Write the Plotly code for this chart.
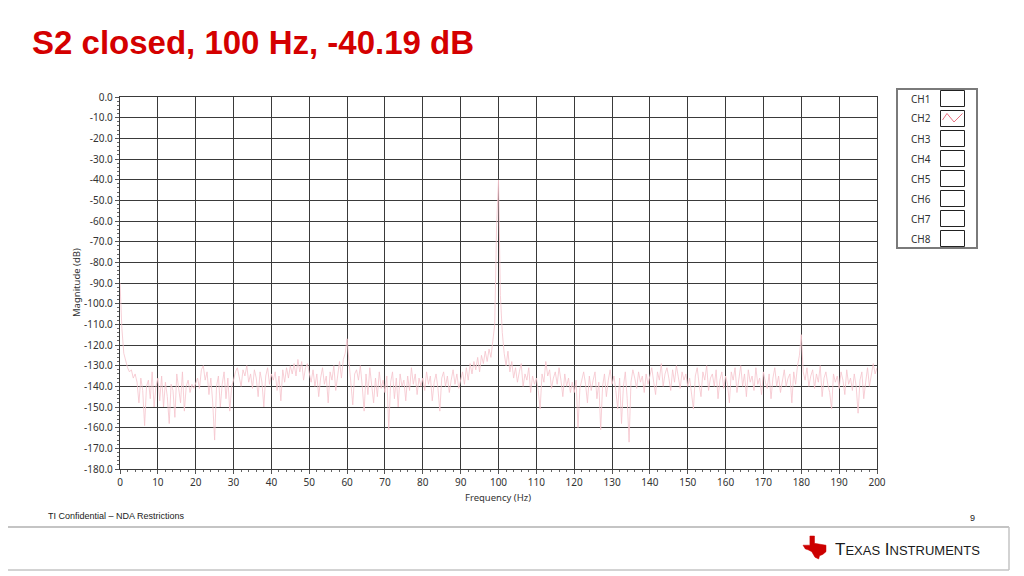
import plotly.graph_objects as go

# ---------------- data ----------------
freq_step_hz = 0.5
magnitude_db = [
    # 0 - 9.5 Hz
    -90, -112, -124, -128, -131, -133, -132, -136, -134, -138, -148, -136, -142, -159, -140, -137, -146, -133, -150, -140,
    # 10 - 19.5
    -136, -147, -135, -150, -138, -145, -158, -139, -142, -155, -134, -141, -148, -133, -152, -140, -137, -143, -139, -141,
    # 20 - 29.5
    -138, -136, -141, -132, -130, -137, -133, -144, -136, -148, -166, -140, -135, -150, -139, -133, -146, -136, -152, -140,
    # 30 - 39.5
    -137, -133, -131, -136, -140, -132, -135, -130, -138, -134, -141, -132, -136, -145, -133, -138, -150, -135, -131, -139,
    # 40 - 49.5
    -134, -137, -133, -142, -135, -147, -132, -138, -131, -136, -130, -134, -129, -135, -127, -133, -128, -137, -131, -129,
    # 50 - 59.5
    -134, -138, -132, -140, -134, -145, -136, -131, -139, -135, -148, -133, -137, -130, -142, -134, -128, -136, -127, -124,
    # 60 - 69.5
    -117, -128, -138, -149, -134, -132, -137, -130, -140, -152, -134, -144, -131, -139, -148, -136, -145, -133, -141, -137,
    # 70 - 79.5
    -143, -135, -161, -138, -133, -146, -136, -150, -134, -140, -137, -147, -135, -142, -131, -139, -134, -144, -136, -140,
    # 80 - 89.5
    -136, -142, -133, -139, -135, -147, -138, -134, -141, -152, -136, -133, -140, -135, -143, -137, -132, -139, -134, -141,
    # 90 - 99.5
    -136, -133, -139, -131, -137, -129, -134, -128, -132, -126, -133, -125, -129, -123, -128, -122, -126, -118, -110, -62,
    # 100 - 109.5
    -40.19, -96, -114, -124, -130, -123, -133, -128, -136, -131, -138, -133, -129, -140, -134, -137, -131, -143, -135, -139,
    # 110 - 119.5
    -136, -142, -151, -134, -138, -128, -135, -132, -141, -136, -133, -139, -131, -137, -145, -134, -140, -136, -143, -138,
    # 120 - 129.5
    -143, -137, -160, -141, -136, -133, -139, -148, -135, -142, -137, -133, -146, -138, -161, -140, -134, -145, -137, -132,
    # 130 - 139.5
    -139, -135, -142, -151, -136, -158, -140, -133, -146, -167, -138, -132, -136, -141, -133, -138, -135, -143, -134, -139,
    # 140 - 149.5
    -135, -131, -138, -144, -133, -137, -129, -140, -134, -131, -136, -142, -132, -138, -130, -135, -141, -133, -137, -134,
    # 150 - 159.5
    -140, -136, -144, -151, -135, -131, -139, -145, -133, -137, -130, -142, -136, -134, -140, -132, -146, -137, -133, -141,
    # 160 - 169.5
    -135, -139, -148, -133, -137, -131, -143, -136, -130, -140, -134, -145, -132, -138, -135, -142, -131, -139, -136, -144,
    # 170 - 179.5
    -133, -138, -141, -134, -146, -136, -131, -140, -135, -143, -137, -132, -140, -136, -134, -148, -133, -139, -130, -125,
    # 180 - 189.5
    -115, -133, -137, -131, -140, -135, -132, -141, -134, -138, -130, -145, -136, -133, -139, -143, -151, -134, -138, -135,
    # 190 - 199.5
    -141, -133, -137, -144, -132, -139, -136, -142, -134, -140, -153, -137, -133, -146, -138, -131, -140, -135, -129, -134,
    # 200
    -131,
]
frequency_hz = [i * freq_step_hz for i in range(len(magnitude_db))]

y_ticks = list(range(0, -181, -10))
y_tick_labels = [f"{v:.1f}" for v in y_ticks]
x_ticks = list(range(0, 201, 10))
channel_names = ["CH1", "CH2", "CH3", "CH4", "CH5", "CH6", "CH7", "CH8"]
active_channel = "CH2"

title_text = "S2 closed, 100 Hz, -40.19 dB"

# ---------------- layout geometry (page pixels) ----------------
OFF = 8  # default page body margin shifts the figure by this much
W, H = 1024 - OFF, 576 - OFF
PL, PR, PT, PB = 120, 877, 97, 469  # plot area in page pixels


def px(x):
    return (x - PL) / (PR - PL)


def py(y):
    return (PB - y) / (PB - PT)


TRACE_COLOR = "#f5c3cb"
GRID_COLOR = "#3a3a3a"
TEXT_COLOR = "#333333"
TICK_FONT = dict(family="Noto Sans, Open Sans, sans-serif", size=10, color=TEXT_COLOR)

fig = go.Figure()
fig.add_trace(go.Scatter(
    x=frequency_hz, y=magnitude_db, mode="lines",
    line=dict(color=TRACE_COLOR, width=0.8), showlegend=False, hoverinfo="x+y",
))

fig.update_layout(
    width=W, height=H,
    margin=dict(l=PL - OFF, r=W - (PR - OFF), t=PT - OFF, b=H - (PB - OFF), pad=0),
    paper_bgcolor="white", plot_bgcolor="white",
    showlegend=False,
)

fig.update_xaxes(
    range=[0, 200], tickvals=x_ticks, ticktext=[str(v) for v in x_ticks],
    showgrid=True, gridcolor=GRID_COLOR, gridwidth=1.4,
    showline=True, linecolor=GRID_COLOR, linewidth=1.4, mirror=True,
    zeroline=False,
    ticks="outside", ticklen=4, tickcolor="#555", tickfont=TICK_FONT,
    minor=dict(dtick=2, ticks="outside", ticklen=2, tickcolor="#666", showgrid=False),
)
fig.update_yaxes(
    range=[-180, 0], tickvals=y_ticks, ticktext=y_tick_labels,
    showgrid=True, gridcolor=GRID_COLOR, gridwidth=1.4,
    showline=True, linecolor=GRID_COLOR, linewidth=1.4, mirror=True,
    zeroline=False,
    ticks="outside", ticklen=4, tickcolor="#555", tickfont=TICK_FONT,
    minor=dict(dtick=2, ticks="outside", ticklen=2, tickcolor="#666", showgrid=False),
)

annotations = []
shapes = []

# title
annotations.append(dict(
    text=f"<b>{title_text}</b>", x=px(30), y=py(43), xref="paper", yref="paper",
    xanchor="left", yanchor="middle", showarrow=False,
    font=dict(family="Liberation Sans, Arial, sans-serif", size=33, color="#d40000"),
))

# axis titles
annotations.append(dict(
    text="Magnitude (dB)", x=px(76), y=py(283), xref="paper", yref="paper",
    xanchor="center", yanchor="middle", textangle=-90, showarrow=False,
    font=dict(family="Noto Sans, Open Sans, sans-serif", size=9.5, color=TEXT_COLOR),
))
annotations.append(dict(
    text="Frequency (Hz)", x=px(498), y=py(497), xref="paper", yref="paper",
    xanchor="center", yanchor="middle", showarrow=False,
    font=dict(family="Noto Sans, Open Sans, sans-serif", size=9.5, color=TEXT_COLOR),
))

# channel legend box
shapes.append(dict(type="rect", xref="paper", yref="paper",
                   x0=px(897), x1=px(977), y0=py(89), y1=py(248),
                   line=dict(color="#7a7a7a", width=2), fillcolor="white", layer="above"))
for i, name in enumerate(channel_names):
    yc = 98.5 + 20 * i
    shapes.append(dict(type="rect", xref="paper", yref="paper",
                       x0=px(940.5), x1=px(964.5), y0=py(yc - 8), y1=py(yc + 8),
                       line=dict(color="#222", width=1), fillcolor="white", layer="above"))
    annotations.append(dict(
        text=name, x=px(920.5), y=py(yc), xref="paper", yref="paper",
        xanchor="center", yanchor="middle", showarrow=False,
        font=dict(family="Noto Sans, Open Sans, sans-serif", size=10, color=TEXT_COLOR),
    ))
    if name == active_channel:
        pts = [(942.5, yc + 1.5), (947, yc - 5), (954, yc + 3.5), (962.5, yc - 5)]
        path = "M " + " L ".join(f"{px(a):.5f},{py(b):.5f}" for a, b in pts)
        shapes.append(dict(type="path", xref="paper", yref="paper", path=path,
                           line=dict(color="#e8707f", width=1), layer="above"))

# footer
annotations.append(dict(
    text="TI Confidential – NDA Restrictions", x=px(46), y=py(516), xref="paper", yref="paper",
    xanchor="left", yanchor="middle", showarrow=False,
    font=dict(family="Liberation Sans, Arial, sans-serif", size=9, color="#222"),
))
annotations.append(dict(
    text="9", x=px(972), y=py(518), xref="paper", yref="paper",
    xanchor="center", yanchor="middle", showarrow=False,
    font=dict(family="Liberation Sans, Arial, sans-serif", size=9, color="#222"),
))
shapes.append(dict(type="line", xref="paper", yref="paper",
                   x0=px(OFF), x1=px(1009), y0=py(527), y1=py(527),
                   line=dict(color="#c4c4c4", width=2)))
shapes.append(dict(type="line", xref="paper", yref="paper",
                   x0=px(OFF), x1=px(1009), y0=py(570), y1=py(570),
                   line=dict(color="#c4c4c4", width=1.5)))
shapes.append(dict(type="line", xref="paper", yref="paper",
                   x0=px(1009), x1=px(1009), y0=py(527), y1=py(570),
                   line=dict(color="#c4c4c4", width=1.5)))

# Texas Instruments logo (state outline + wordmark)
tx = [(0.30, 0.0), (0.50, 0.0), (0.50, 0.32), (0.75, 0.36), (1.0, 0.40), (1.0, 0.68),
      (0.86, 0.80), (0.72, 0.86), (0.68, 1.0), (0.52, 0.92), (0.38, 0.68), (0.22, 0.60),
      (0.10, 0.56), (0.0, 0.40), (0.30, 0.40)]
lx0, ly0, lw, lh = 803, 536, 23, 23
path = "M " + " L ".join(f"{px(lx0 + a * lw):.5f},{py(ly0 + b * lh):.5f}" for a, b in tx) + " Z"
shapes.append(dict(type="path", xref="paper", yref="paper", path=path,
                   line=dict(color="#cc0000", width=0.5), fillcolor="#cc0000"))
annotations.append(dict(
    text="T<span style='font-size:13px'>EXAS</span> I<span style='font-size:13px'>NSTRUMENTS</span>",
    x=px(833), y=py(549), xref="paper", yref="paper",
    xanchor="left", yanchor="middle", showarrow=False,
    font=dict(family="Liberation Sans, Arial, sans-serif", size=17, color="#1a1a1a"),
))

fig.update_layout(annotations=annotations, shapes=shapes)

fig.write_html("out.html")
